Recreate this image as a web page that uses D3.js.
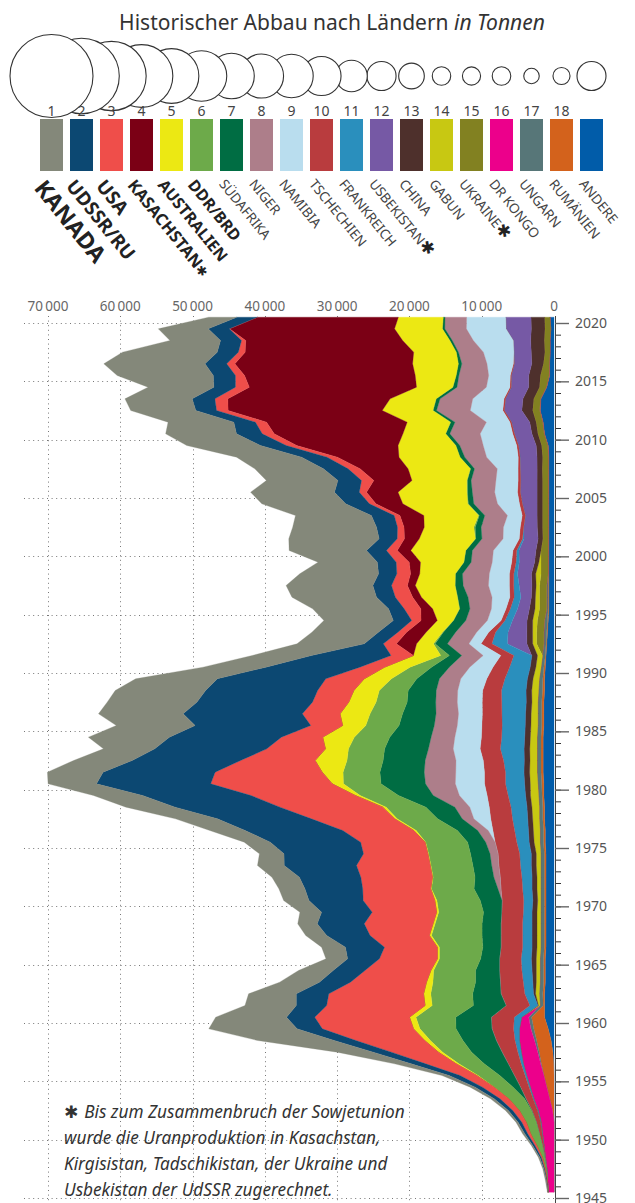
<!DOCTYPE html>
<html><head><meta charset="utf-8">
<script src="https://cdn.jsdelivr.net/npm/d3@7"></script>
<style>
body{margin:0;background:#fff}
svg{display:block}
text{font-family:"Noto Sans",sans-serif}
</style>
</head><body>
<svg id="chart" width="635" height="1203"></svg>
<script>
// ---------- DATA (tonnes of uranium per year, 1945 … 2020) ----------
const years = d3.range(1945, 2021);

const KANADA = [100,150,150,200,200,
 300,300,400,500,700,1000,2300,5000,10600,12200,
 9800,7100,6600,5500,4800,3000,3300,2900,2700,3000,
 3500,3600,3800,3700,3400,3600,4900,5800,6800,6800,
 6700,7700,8100,7100,11200,10900,11700,12400,12500,11300,
 8700,8200,9300,9200,9600,10500,11700,12000,10900,8200,
 10700,12500,11600,10500,11600,11600,9900,9500,9000,10200,
 9800,9100,9000,9300,9100,13300,14000,13100,7000,6900,
 3900];
const UDSSR = [0,50,100,200,300,
 400,500,600,800,1000,1500,2000,2500,3000,3500,
 3900,4200,4500,4300,4400,4400,5400,6000,6500,7000,
 7500,8000,8500,10000,11000,12500,13500,13000,14500,15000,
 15800,15500,15000,15500,15500,16000,16500,16000,15500,15000,
 13000,11000,2640,2700,2540,2160,2600,2580,2530,2610,
 2760,2500,2900,3150,3280,3430,3260,3410,3520,3560,
 3560,2990,2870,3140,2990,3060,3000,2920,2900,2910,
 2850];
const USA = [0,50,100,150,250,
 400,600,900,1200,1600,2300,4200,6500,9500,12600,
 13100,13600,13100,10500,9100,8000,7300,8200,9500,8900,
 9900,9400,9900,10200,8900,8900,9800,11500,14200,14400,
 16800,14800,10300,8100,5700,4400,5200,5000,5000,5300,
 3400,3100,1800,1200,1300,2300,2400,2200,1900,1800,
 1500,1000,900,800,900,1000,1700,1650,1430,1450,
 1660,1540,1600,1790,1920,1260,1130,940,580,60,
 10];
const KASACHSTAN = [0,0,0,0,0,
 0,0,0,0,0,0,0,0,0,0,
 0,0,0,0,0,0,0,0,0,0,
 0,0,0,0,0,0,0,0,0,0,
 0,0,0,0,0,0,0,0,0,0,
 0,0,2800,2700,2240,1630,1210,1090,1270,1560,
 1870,2050,2800,3300,3720,4360,5280,6640,8520,14020,
 17800,19450,21320,22450,23130,23610,24590,23320,21710,22810,
 19480];
const AUSTRALIEN = [0,0,0,0,0,
 0,0,0,0,50,200,400,600,800,900,
 900,1000,1000,900,400,300,300,300,300,300,
 300,100,100,100,100,100,360,360,500,700,
 1560,2900,4420,3200,4380,3210,4160,3790,3530,3780,
 3530,3780,2330,2260,2210,3710,4970,5490,4910,5980,
 7580,7760,6850,7570,8980,9520,7590,8610,8430,7980,
 5900,5980,6990,6350,5000,5650,6320,5880,6520,6610,
 6200];
const DDR_BRD = [0,20,150,320,770,
 1200,1400,1700,2200,2600,3000,3500,4000,4500,5000,
 5500,5700,5800,5900,5800,5700,6000,7000,6500,6200,
 6000,5900,5800,5800,5800,5800,5700,5600,5500,5300,
 5200,5100,5000,5000,4900,4600,4500,4300,4000,3500,
 2970,1200,230,120,40,35,40,30,30,30,
 30,30,200,100,80,90,65,40,0,0,
 8,50,50,30,30,0,0,0,0,0,
 0];
const SUEDAFRIKA = [0,0,0,0,0,
 0,0,30,170,1000,2000,3300,4200,4600,4950,
 4900,4500,3900,3400,3300,2600,2500,2600,2600,2500,
 3000,3300,2600,2600,2700,2500,2800,3400,4000,4800,
 6150,6130,5820,6060,5730,4880,4630,3960,3880,3130,
 2460,1700,1700,1700,1700,1420,1440,1100,970,1000,
 900,880,820,760,760,670,530,540,660,560,
 580,580,470,530,570,390,490,310,350,350,
 250];
const NIGER = [0,0,0,0,0,
 0,0,0,0,0,0,0,0,0,0,
 0,0,0,0,0,0,0,0,0,0,
 0,410,870,970,1100,1300,1460,1610,2060,3620,
 4130,4360,4260,3430,3280,3180,3110,2980,2970,2960,
 2830,2960,2970,2910,2980,2970,3320,3500,3710,2910,
 2910,2920,3080,3140,3280,3090,3430,3150,3030,3240,
 4200,4350,4670,4520,4060,4120,3480,3450,2910,2980,
 2990];
const NAMIBIA = [0,0,0,0,0,
 0,0,0,0,0,0,0,0,0,0,
 0,0,0,0,0,0,0,0,0,0,
 0,0,0,0,0,0,650,2340,2700,3840,
 4040,3970,3780,3720,3680,3400,3300,3450,3450,3600,
 3210,2450,1680,1660,1900,2020,2450,2900,2780,2690,
 2710,2240,2330,2040,3040,3150,3070,2880,4370,4630,
 4500,3260,4500,4320,3260,2990,3650,4220,5530,5480,
 5410];
const TSCHECHIEN = [10,20,50,100,200,
 400,600,800,1000,1200,1500,1800,2200,2600,3000,
 3200,3300,3300,3200,3100,3000,3000,3000,3000,3000,
 3000,3000,3000,3000,3000,3000,3000,3000,3000,2900,
 2900,2900,2800,2800,2800,2800,2700,2700,2600,2500,
 2300,1800,1500,950,540,600,600,600,610,610,
 510,460,470,450,410,410,360,310,260,260,
 250,230,230,220,190,160,140,0,0,0,
 0];
const FRANKREICH = [0,0,0,0,20,
 40,60,80,100,150,200,300,450,600,800,
 1000,1100,1200,1300,1400,1400,1300,1300,1300,1200,
 1250,1300,1400,1500,1600,1700,1900,2100,2200,2400,
 2630,2550,2860,3270,3170,3190,3250,3380,3390,3100,
 2840,2480,2150,1730,1030,1000,930,750,510,440,
 320,200,20,10,7,7,5,4,5,8,
 7,6,3,5,3,2,0,0,0,0,
 0];
const USBEKISTAN = [0,0,0,0,0,
 0,0,0,0,0,0,0,0,0,0,
 0,0,0,0,0,0,0,0,0,0,
 0,0,0,0,0,0,0,0,0,0,
 0,0,0,0,0,0,0,0,0,0,
 0,0,2700,2600,2020,1640,1460,1760,1930,2130,
 2350,1950,1860,1600,2020,2300,2260,2320,2340,2430,
 2400,2500,2400,2400,2400,2390,2400,2400,2400,3500,
 3500];
const CHINA = [0,0,0,0,0,
 0,0,0,0,0,0,0,0,0,0,
 0,100,300,500,600,700,700,700,700,700,
 700,700,700,700,700,700,700,700,700,700,
 800,800,800,800,800,800,800,800,800,800,
 800,800,800,800,780,770,560,590,590,590,
 700,660,730,750,750,750,750,710,770,750,
 830,890,1500,1500,1500,1620,1620,1890,1890,1890,
 1890];
const GABUN = [0,0,0,0,0,
 0,0,0,0,0,0,0,0,0,0,
 0,200,500,500,500,500,500,500,500,500,
 400,500,500,600,600,800,900,900,1000,1100,
 1030,1020,970,1000,920,940,910,800,930,850,
 710,680,550,560,650,630,570,470,730,290,
 0,0,0,0,0,0,0,0,0,0,
 0,0,0,0,0,0,0,0,0,0,
 0];
const UKRAINE = [0,0,0,0,0,
 0,0,0,0,0,0,0,0,0,0,
 0,0,0,0,0,0,0,0,0,0,
 0,0,0,0,0,0,0,0,0,0,
 0,0,0,0,0,0,0,0,0,0,
 0,0,1000,1000,1000,1000,1000,1000,1000,1000,
 1000,750,800,800,800,800,800,850,800,840,
 850,890,960,920,930,1200,810,710,790,800,
 740];
const DR_KONGO = [800,900,1000,1200,1400,
 1600,1800,2000,2200,2300,2400,2400,2300,2100,1600,
 1000,0,0,0,0,0,0,0,0,0,
 0,0,0,0,0,0,0,0,0,0,
 0,0,0,0,0,0,0,0,0,0,
 0,0,0,0,0,0,0,0,0,0,
 0,0,0,0,0,0,0,0,0,0,
 0,0,0,0,0,0,0,0,0,0,
 0];
const UNGARN = [0,0,0,0,0,
 0,0,0,0,0,0,100,200,300,400,
 400,450,500,500,500,500,500,500,500,500,
 500,500,500,500,500,500,500,500,500,500,
 550,550,550,550,550,550,550,550,550,500,
 400,400,300,400,400,200,200,200,0,0,
 0,0,0,0,0,0,0,0,0,0,
 0,0,0,0,0,0,0,0,0,0,
 0];
const RUMAENIEN = [0,0,0,0,0,
 0,0,200,600,1000,1400,1700,1900,2000,2000,
 1800,200,250,250,250,250,250,250,250,250,
 250,250,250,250,250,250,250,250,250,250,
 300,300,300,300,300,300,300,300,300,250,
 200,100,100,100,100,100,100,100,100,100,
 100,90,90,90,90,90,90,77,77,75,
 77,77,90,77,77,77,50,0,0,0,
 0];
const ANDERE = [0,0,0,0,0,
 0,0,0,0,0,0,50,150,400,800,
 1300,1300,1300,1200,1200,1200,1100,1100,1100,1100,
 1100,1100,1100,1100,1100,1200,1200,1300,1300,1400,
 1400,1500,1500,1500,1500,1400,1400,1400,1300,1300,
 1200,1100,1000,900,800,700,700,700,700,700,
 700,700,700,700,700,700,700,700,700,800,
 1300,1500,1900,1800,1000,600,600,550,550,450,
 550];

const countryNames = ["KANADA","UDSSR/RU","USA","KASACHSTAN","AUSTRALIEN","DDR/BRD","SÜDAFRIKA","NIGER","NAMIBIA","TSCHECHIEN","FRANKREICH","USBEKISTAN","CHINA","GABUN","UKRAINE","DR KONGO","UNGARN","RUMÄNIEN","ANDERE"];
const countryValues = [KANADA,UDSSR,USA,KASACHSTAN,AUSTRALIEN,DDR_BRD,SUEDAFRIKA,NIGER,NAMIBIA,TSCHECHIEN,FRANKREICH,USBEKISTAN,CHINA,GABUN,UKRAINE,DR_KONGO,UNGARN,RUMAENIEN,ANDERE];
const starred = ["KASACHSTAN","USBEKISTAN","UKRAINE"];
const xTicks = [70000,60000,50000,40000,30000,20000,10000,0];
const footnote = ["Bis zum Zusammenbruch der Sowjetunion","wurde die Uranproduktion in Kasachstan,","Kirgisistan, Tadschikistan, der Ukraine und","Usbekistan der UdSSR zugerechnet."];

// ---------- STYLE ----------
const colors = ["#84887a","#0c4872","#ef4e4a","#7b0015","#ece813","#6daa4a","#006d43","#ad7e8a","#b9ddee","#b93c3e","#2a8fbd","#7659a5","#4e302c","#c8c812","#828121","#ec008b","#577678","#d3621c","#015ca9"];
const labelSize = [23,19,19,16.5,16,16,13.5,13.5,13.5,13.5,13.5,13.5,13.5,13.5,13.5,13.5,13.5,13.5,13.5];
const labelBold = [1,1,1,1,1,1,0,0,0,0,0,0,0,0,0,0,0,0,0];

const svg = d3.select("#chart");

// Title
const title = svg.append("text").attr("x",332).attr("y",30).attr("text-anchor","middle")
  .attr("font-size",21).attr("fill","#333");
title.append("tspan").text("Historischer Abbau nach Ländern ");
title.append("tspan").attr("font-style","italic").text("in Tonnen");

// Scales
const x = d3.scaleLinear().domain([0,70000]).range([554,48]);
const y = d3.scaleLinear().domain([1945,2020]).range([1198,323]);

// grid
const gridG = svg.append("g").attr("stroke","#777").attr("stroke-width",1).attr("stroke-dasharray","1,3.6");
d3.range(1945,2021,5).forEach(yr=>{
  gridG.append("line").attr("x1",24).attr("x2",555).attr("y1",Math.round(y(yr))+0.5).attr("y2",Math.round(y(yr))+0.5);
});
xTicks.filter(v=>v>0).forEach(v=>{
  gridG.append("line").attr("x1",Math.round(x(v))+0.5).attr("x2",Math.round(x(v))+0.5).attr("y1",316).attr("y2",1203);
});

// stack
const rows = years.map((yr,i)=>{const o={year:yr}; countryNames.forEach((n,k)=>o[n]=countryValues[k][i]); return o;});
const stackKeys = countryNames.slice().reverse();
const stacked = d3.stack().keys(stackKeys)(rows);
const area = d3.area().y(d=>y(d.data.year+0.5)).x0(d=>x(d[0])).x1(d=>x(d[1]));
svg.append("g").selectAll("path").data(stacked).join("path")
  .attr("d",area)
  .attr("fill",d=>colors[countryNames.indexOf(d.key)])
  .attr("stroke",d=>colors[countryNames.indexOf(d.key)]).attr("stroke-width",0.3);

// top axis labels
svg.append("g").selectAll("text").data(xTicks).join("text")
  .attr("x",d=>x(d)).attr("y",311).attr("text-anchor","middle")
  .attr("font-size",13.5).attr("fill","#666")
  .text(d=>d3.format(",")(d).replace(/,/g,"\u2009"));

// right axis
const minorAxis = d3.axisRight(y).tickValues(years).tickSize(6).tickFormat("");
const gMinor = svg.append("g").attr("transform","translate(555,0)").call(minorAxis);
gMinor.select(".domain").remove();
gMinor.selectAll("line").attr("stroke","#333");
const majorAxis = d3.axisRight(y).tickValues(d3.range(1945,2021,5)).tickSize(14).tickPadding(6).tickFormat(d3.format("d"));
const gMajor = svg.append("g").attr("transform","translate(555,0)").call(majorAxis);
gMajor.select(".domain").attr("stroke","#444").attr("d","M0.5,316V1203");
gMajor.selectAll("line").attr("stroke","#666").attr("stroke-width",1.4);
gMajor.selectAll("text").attr("font-size",14).attr("fill","#555").attr("font-family","Noto Sans");

// circles (cumulative totals)
const totals = countryValues.map(v=>d3.sum(v));
const r = d3.scaleSqrt().domain([0,d3.max(totals)]).range([0,41.5]);
const sqX = i => 40 + 30*i;
const cg = svg.append("g");
for (let i = countryNames.length-1; i>=0; i--) {
  cg.append("circle").attr("cx",sqX(i)+11.5).attr("cy",76).attr("r",r(totals[i]))
    .attr("fill","#fff").attr("stroke","#333").attr("stroke-width",1.1);
}
// numbers
svg.append("g").selectAll("text").data(countryNames.slice(0,18)).join("text")
  .attr("x",(d,i)=>sqX(i)+11.5).attr("y",116).attr("text-anchor","middle")
  .attr("font-size",14).attr("fill","#444").text((d,i)=>i+1);

// legend squares
svg.append("g").selectAll("rect").data(countryNames).join("rect")
  .attr("x",(d,i)=>sqX(i)).attr("y",119).attr("width",23).attr("height",52)
  .attr("fill",(d,i)=>colors[i]);

// rotated labels
const lg = svg.append("g");
countryNames.forEach((n,i)=>{
  const t = lg.append("text").attr("transform",`translate(${sqX(i)+6},178) rotate(51)`)
    .attr("dy","0.72em").attr("font-size",labelSize[i])
    .attr("font-weight",labelBold[i]?700:400).attr("fill",labelBold[i]?"#222":"#444").text(n);
  if (starred.includes(n)) {
    t.append("tspan").attr("font-family","DejaVu Sans").attr("font-weight",700)
      .attr("font-size",i===3?13:17).attr("fill","#222").text("\u2731");
  }
});

// footnote
const fn = svg.append("g").attr("font-style","italic").attr("font-size",17.2).attr("fill","#333");
footnote.forEach((line,i)=>{
  const t = fn.append("text").attr("x",64).attr("y",1118+i*26);
  if (i===0) {
    t.append("tspan").attr("font-family","DejaVu Sans").attr("font-style","normal").attr("font-weight",700).attr("font-size",17).text("\u2731 ");
  }
  t.append("tspan").text(line);
});
</script>
</body></html>
